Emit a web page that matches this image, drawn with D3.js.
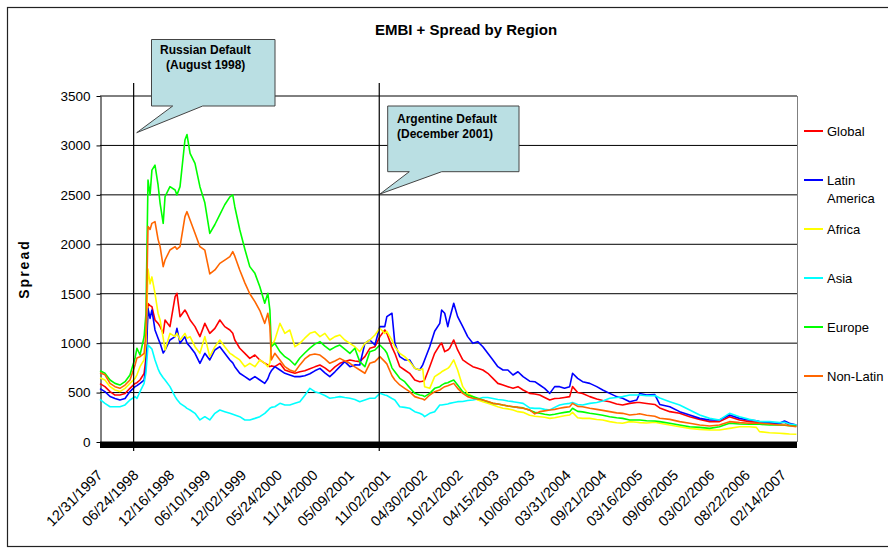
<!DOCTYPE html>
<html>
<head>
<meta charset="utf-8" />
<title>EMBI + Spread by Region</title>
<style>
body { margin: 0; background: #fff; }
#graph { width: 888px; height: 548px; }
text { font-family: Arial, "Liberation Sans", sans-serif; }
</style>
</head>
<body>
<div id="graph"></div>

<script src="https://cdnjs.cloudflare.com/ajax/libs/d3/7.8.5/d3.min.js"></script>
<script>
// values, one sample roughly every 3-4 weeks
var dates = [
    "1997-12-31","1998-01-24","1998-02-18","1998-03-14","1998-04-07","1998-05-02","1998-05-26","1998-06-20","1998-06-29","1998-07-14",
    "1998-08-03","1998-08-12","1998-08-22","1998-09-01","1998-09-10","1998-09-25","1998-10-10","1998-10-20","1998-11-04","1998-11-13",
    "1998-12-07","1999-01-01","1999-01-10","1999-01-25","1999-02-18","1999-02-28","1999-03-15","1999-04-08","1999-05-02","1999-05-26",
    "1999-06-19","1999-07-14","1999-08-07","1999-08-31","1999-09-25","1999-10-09","1999-10-19","1999-11-12","1999-12-07","1999-12-31",
    "2000-01-25","2000-02-18","2000-03-13","2000-03-28","2000-04-07","2000-04-14","2000-05-01","2000-05-26","2000-06-19","2000-07-13",
    "2000-08-07","2000-08-31","2000-09-24","2000-10-19","2000-11-12","2000-12-07","2000-12-31","2001-01-24","2001-02-18","2001-03-14",
    "2001-04-07","2001-05-02","2001-05-26","2001-06-19","2001-07-14","2001-08-07","2001-09-01","2001-09-25","2001-10-19","2001-10-29",
    "2001-11-23","2001-12-07","2001-12-31","2002-01-24","2002-02-17","2002-03-14","2002-04-07","2002-04-22","2002-05-01","2002-05-26",
    "2002-06-19","2002-07-14","2002-07-23","2002-08-07","2002-08-22","2002-08-31","2002-09-20","2002-10-09","2002-11-03","2002-11-27",
    "2002-12-22","2003-01-15","2003-02-09","2003-03-05","2003-03-30","2003-04-23","2003-05-18","2003-06-11","2003-07-06","2003-07-30",
    "2003-08-24","2003-09-25","2003-10-20","2003-11-13","2003-12-07","2004-01-01","2004-01-25","2004-02-18","2004-03-13","2004-04-07",
    "2004-04-21","2004-05-16","2004-06-09","2004-07-14","2004-08-17","2004-09-15","2004-10-19","2004-11-22","2004-12-21","2005-01-25",
    "2005-02-28","2005-03-14","2005-04-17","2005-05-27","2005-06-20","2005-08-08","2005-09-25","2005-11-13","2006-01-01","2006-02-18",
    "2006-04-07","2006-05-26","2006-07-14","2006-08-31","2006-10-04","2006-10-19","2006-12-07","2007-01-25","2007-02-18","2007-03-14",
    "2007-04-17"
]

var globalSpread = [
    590,560,510,475,475,490,543,593,600,627,
    695,850,1400,1380,1369,1234,1200,1167,1100,1234,
    1167,1470,1504,1268,1335,1300,1234,1167,1066,1200,
    1099,1150,1234,1167,1133,1100,1032,948,897,846,
    880,830,796,780,762,770,762,796,728,711,
    695,711,720,740,760,779,750,711,760,796,
    813,830,820,813,863,948,964,1066,1133,1100,
    960,897,762,728,695,627,610,615,627,762,
    897,981,1000,914,930,948,1032,931,830,796,
    762,745,728,695,644,593,577,560,543,560,
    526,492,485,475,450,425,440,442,450,459,
    560,500,490,459,435,420,408,385,374,391,
    400,400,390,380,345,307,290,256,229,206,
    206,256,223,206,200,196,189,189,200,172,
    162
]

var latinSpread = [
    540,510,460,440,425,440,510,560,570,593,
    627,760,1350,1250,1335,1133,1050,998,900,930,
    1032,1066,1150,998,1066,1000,964,897,796,897,
    830,931,964,897,830,800,762,695,661,627,
    661,627,593,640,695,720,762,728,695,678,
    661,661,670,690,720,745,700,661,710,762,
    813,762,780,779,998,1032,981,1167,1167,1268,
    1302,998,863,830,830,745,728,780,830,964,
    1120,1200,1335,1302,1167,1250,1403,1268,1167,1066,
    998,1015,964,897,830,762,728,728,678,711,
    661,615,610,577,543,492,560,560,543,560,
    695,644,610,593,560,526,492,459,442,408,
    425,490,475,480,380,357,307,273,239,223,
    223,273,239,223,215,206,196,189,212,189,
    172
]

var africaSpread = [
    650,627,560,526,510,543,593,644,680,762,
    830,1000,1750,1600,1670,1504,1300,1234,1050,930,
    1099,1066,1100,1032,1099,1050,1066,964,897,1066,
    863,964,1032,964,897,880,863,830,762,796,
    762,830,796,762,800,964,1032,1200,1099,1133,
    964,998,1050,1099,1116,1066,1099,1032,1066,1082,
    1032,998,964,914,998,1032,1082,1150,1099,1120,
    1030,964,897,863,813,745,728,740,560,543,
    661,695,710,728,745,762,830,728,560,492,
    459,425,408,391,374,357,341,335,324,307,
    300,270,260,256,250,239,245,256,265,273,
    300,245,239,239,228,223,206,195,189,206,
    200,196,192,200,189,172,155,138,128,121,
    121,138,155,155,148,105,94,88,85,81,
    78
]

var asiaSpread = [
    430,390,357,357,357,375,425,459,440,509,
    593,700,980,960,940,830,740,695,650,627,
    560,459,430,391,357,340,324,290,223,256,
    223,290,324,307,290,280,273,256,223,223,
    239,256,290,320,341,350,357,391,374,374,
    391,408,470,543,509,492,470,442,450,459,
    450,442,430,408,425,442,442,492,475,470,
    440,425,357,350,341,307,290,275,256,290,
    307,374,374,380,385,391,400,408,410,420,
    425,435,450,450,440,430,425,415,408,400,
    391,345,340,341,330,324,350,374,385,391,
    400,380,375,391,400,415,442,450,459,475,
    475,475,468,470,445,408,374,324,273,239,
    223,290,256,229,215,206,206,196,200,182,
    172
]

var europeSpread = [
    720,695,627,593,576,610,678,850,948,880,
    1065,1300,2650,2500,2750,2800,2600,2414,2212,2482,
    2583,2549,2500,2583,3055,3110,2920,2819,2583,2420,
    2110,2200,2300,2400,2480,2500,2380,2150,1950,1774,
    1706,1571,1403,1504,1335,964,998,914,863,830,
    779,850,900,950,990,1015,970,931,960,981,
    940,897,948,813,762,914,931,981,931,900,
    750,711,644,610,550,492,475,470,459,492,
    543,560,575,593,600,610,627,577,509,475,
    459,442,425,408,391,385,374,365,357,350,
    345,320,300,290,280,273,280,290,300,307,
    341,310,305,290,280,270,256,245,239,223,
    223,223,215,212,206,189,172,155,148,138,
    155,189,182,179,179,179,172,172,170,165,
    162
]

var nonLatinSpread = [
    700,680,593,560,543,576,627,780,850,863,
    897,1100,2180,2150,2212,2229,2050,1976,1774,1841,
    1942,1976,1950,1976,2280,2330,2246,2111,1976,1940,
    1700,1740,1807,1840,1875,1925,1880,1740,1610,1500,
    1420,1330,1200,1302,1167,830,897,830,762,728,
    711,780,840,880,890,880,840,796,820,846,
    820,796,760,728,695,796,813,863,813,790,
    670,627,577,543,510,459,442,435,425,475,
    509,526,540,560,570,577,593,543,492,459,
    442,435,425,410,391,385,374,365,357,350,
    341,325,285,307,315,324,330,341,350,357,
    391,360,357,341,330,320,307,295,290,273,
    280,285,270,260,240,229,206,189,172,162,
    172,206,196,189,189,189,182,172,172,165,
    155
]

var seriesNames = ["Global", "Latin America", "Africa", "Asia", "Europe", "Non-Latin"]
var seriesColors = ["#ff0000", "#0000ff", "#ffff00", "#00ffff", "#00ff00", "#ff6600"]
var yTicks = [0, 500, 1000, 1500, 2000, 2500, 3000, 3500]
var xTickLabels = ["12/31/1997","06/24/1998","12/16/1998","06/10/1999","12/02/1999","05/24/2000","11/14/2000",
    "05/09/2001","11/02/2001","04/30/2002","10/21/2002","04/15/2003","10/06/2003","03/31/2004","09/21/2004",
    "03/16/2005","09/06/2005","03/02/2006","08/22/2006","02/14/2007"]
var eventDates = ["1998-06-13", "2001-09-22"]
var eventLabels = [["Russian Default", "(August 1998)"], ["Argentine Default", "(December 2001)"]]

!(function(){
    "use strict"

    var width = 888, height = 548
    var margin = {top:96, left:100, bottom:106, right:91}
    var chartWidth, chartHeight
    var svg = d3.select("#graph").append("svg")
    var parseDate = d3.timeParse("%Y-%m-%d")
    var parseLabel = d3.timeParse("%m/%d/%Y")

    var xScale = d3.scaleTime()
    var yScale = d3.scaleLinear()

    var allValues = [globalSpread, latinSpread, africaSpread, asiaSpread, europeSpread, nonLatinSpread]
    var series = seriesNames.map(function(name, i){
        return {
            name: name,
            color: seriesColors[i],
            values: allValues[i].map(function(v, j){ return {date: parseDate(dates[j]), value: v} })
        }
    })

    setSize()
    drawFrame()
    drawAxis()
    drawChart()
    drawNotes()
    drawLegend()

    function setSize() {
        chartWidth = width - margin.left - margin.right
        chartHeight = height - margin.top - margin.bottom
        svg.attr("width", width).attr("height", height)

        xScale.domain([parseDate("1997-12-31"), parseDate("2007-04-20")]).range([margin.left, margin.left + chartWidth])
        yScale.domain([0, 3500]).range([margin.top + chartHeight, margin.top])
    }

    function drawFrame() {
        svg.append("rect")
            .attr("x", 7.5).attr("y", 7.5)
            .attr("width", 892).attr("height", 539)
            .attr("fill", "#fff").attr("stroke", "#222").attr("stroke-width", 1.2)

        svg.append("text")
            .attr("x", 466).attr("y", 35)
            .attr("text-anchor", "middle")
            .attr("font-size", 15).attr("font-weight", "bold")
            .text("EMBI + Spread by Region")

        svg.append("text")
            .attr("transform", "translate(29,269) rotate(-90)")
            .attr("text-anchor", "middle")
            .attr("font-size", 14).attr("font-weight", "bold")
            .attr("letter-spacing", 2)
            .text("Spread")

        // gridlines
        svg.append("g").selectAll("line").data(yTicks).enter().append("line")
            .attr("x1", margin.left).attr("x2", margin.left + chartWidth)
            .attr("y1", function(d){ return yScale(d) })
            .attr("y2", function(d){ return yScale(d) })
            .attr("stroke", "#000").attr("stroke-width", 1)

        svg.append("line")
            .attr("x1", margin.left + chartWidth + 0.5).attr("x2", margin.left + chartWidth + 0.5)
            .attr("y1", margin.top).attr("y2", margin.top + chartHeight)
            .attr("stroke", "#808080")
    }

    function drawAxis() {
        var yAxis = d3.axisLeft(yScale).tickValues(yTicks).tickFormat(d3.format("d"))
            .tickSize(4).tickSizeOuter(0).tickPadding(6)
        var gy = svg.append("g")
            .attr("transform", "translate(" + (margin.left + 0.5) + ",0)")
            .call(yAxis)
        gy.selectAll("text").attr("font-size", 13.5).attr("font-family", "Arial, 'Liberation Sans', sans-serif").attr("fill", "#000")
        gy.selectAll("line, path").attr("stroke", "#000")

        // dense category ticks render as a solid band under the plot
        svg.append("rect")
            .attr("x", margin.left).attr("y", margin.top + chartHeight)
            .attr("width", chartWidth).attr("height", 6)
            .attr("fill", "#000")

        var xAxis = d3.axisBottom(xScale)
            .tickValues(xTickLabels.map(function(d){ return parseLabel(d) }))
            .tickSize(0)
            .tickFormat(d3.timeFormat("%m/%d/%Y"))
        var gx = svg.append("g")
            .attr("transform", "translate(0," + (margin.top + chartHeight) + ")")
            .call(xAxis)
        gx.select(".domain").remove()
        gx.selectAll("text")
            .attr("font-size", 14.5).attr("font-family", "Arial, 'Liberation Sans', sans-serif").attr("fill", "#000")
            .attr("text-anchor", "end")
            .attr("dy", 0).attr("y", 0)
            .attr("transform", "translate(3,34) rotate(-45)")
    }

    function drawChart() {
        var line = d3.line()
            .x(function(d){ return xScale(d.date) })
            .y(function(d){ return yScale(d.value) })

        svg.append("g").selectAll("path").data(series).enter().append("path")
            .attr("d", function(d){ return line(d.values) })
            .attr("fill", "none")
            .attr("stroke", function(d){ return d.color })
            .attr("stroke-width", 1.6)
            .attr("stroke-linejoin", "round")
    }

    function drawNotes() {
        svg.append("g").selectAll("line").data(eventDates).enter().append("line")
            .attr("x1", function(d){ return xScale(parseDate(d)) })
            .attr("x2", function(d){ return xScale(parseDate(d)) })
            .attr("y1", 83).attr("y2", 451)
            .attr("stroke", "#000").attr("stroke-width", 1.2)

        var shapes = [
            "M151.5,39.5H275V106H202.7L136.7,132.7L172.7,106H151.5Z",
            "M387.7,106H519V171.7H441.7L380,194L409.3,171.7H387.7Z"
        ]
        var textPos = [[160, 54, 166, 69], [397, 123, 397, 138]]

        shapes.forEach(function(s, i){
            svg.append("path").attr("d", s)
                .attr("fill", "#badfe3").attr("stroke", "#444").attr("stroke-width", 1)
            svg.append("text").attr("x", textPos[i][0]).attr("y", textPos[i][1])
                .attr("font-size", 12).attr("font-weight", "bold").text(eventLabels[i][0])
            svg.append("text").attr("x", textPos[i][2]).attr("y", textPos[i][3])
                .attr("font-size", 12).attr("font-weight", "bold").text(eventLabels[i][1])
        })
    }

    function drawLegend() {
        var legend = svg.append("g").selectAll("g").data(series).enter().append("g")
            .attr("transform", function(d, i){ return "translate(804," + (131 + i * 49) + ")" })

        legend.append("line")
            .attr("x1", 0).attr("x2", 19)
            .attr("stroke", function(d){ return d.color })
            .attr("stroke-width", 2)

        legend.append("text")
            .attr("x", 23).attr("y", 4.5)
            .attr("font-size", 13)
            .each(function(d){
                var words = d.name == "Latin America" ? ["Latin", "America"] : [d.name]
                var t = d3.select(this)
                words.forEach(function(w, k){
                    t.append("tspan").attr("x", 23).attr("dy", k == 0 ? 0 : 18).text(w)
                })
            })
    }

}());
</script>
</body>
</html>
